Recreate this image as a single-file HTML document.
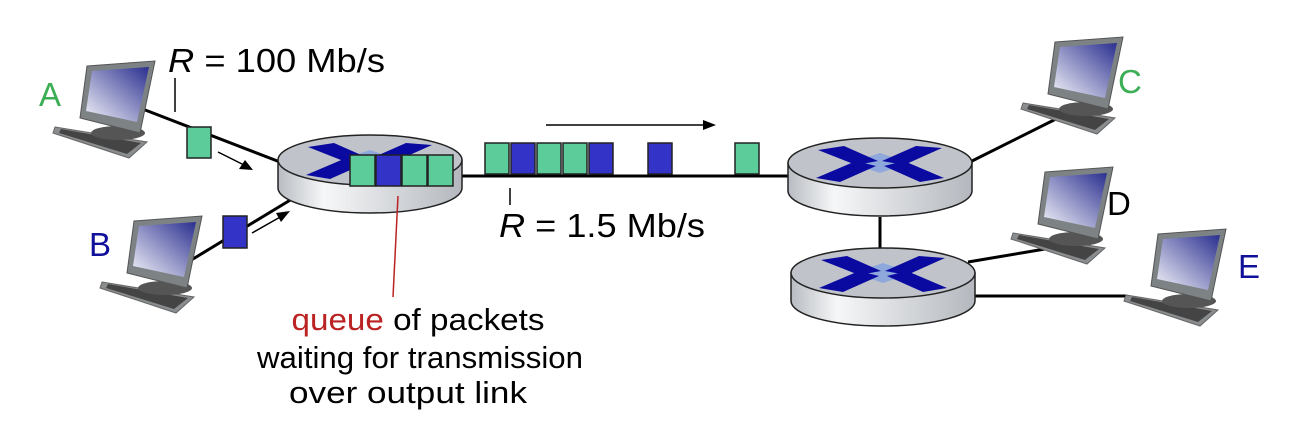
<!DOCTYPE html>
<html><head><meta charset="utf-8"><style>
html,body{margin:0;padding:0;background:#fff;}
svg{display:block;font-family:"Liberation Sans",sans-serif;}
</style></head><body>
<svg width="1292" height="434" viewBox="0 0 1292 434" xmlns="http://www.w3.org/2000/svg">
<defs>
<linearGradient id="scr" x1="1" y1="0" x2="0" y2="1"><stop offset="0" stop-color="#2a2f8f"/><stop offset="1" stop-color="#f4f4fa"/></linearGradient>
<linearGradient id="side" x1="0" y1="0" x2="1" y2="0"><stop offset="0" stop-color="#b8bcc2"/><stop offset="0.25" stop-color="#f6f7f8"/><stop offset="1" stop-color="#b4b8be"/></linearGradient>
<g id="pc">
<polygon points="0,67 92,82 74,98 -2,73" fill="#8a8d8f" stroke="#666" stroke-width="1"/>
<polygon points="6,69 86,83 72,94 4,73" fill="#444"/>
<ellipse cx="63" cy="73" rx="27" ry="7" fill="#555"/>
<polygon points="32,6 100,1 85,73 25,58" fill="#7d8284" stroke="#555" stroke-width="1"/>
<polygon points="37,11 94,7 82,62 31,51" fill="url(#scr)"/>
</g>
<g id="rt">
<path d="M-92,0 L-92,28 A92,25 0 0 0 92,28 L92,0 Z" fill="url(#side)" stroke="#222" stroke-width="1.5"/>
<ellipse cx="0" cy="0" rx="92" ry="25" fill="#c0c4ca" stroke="#222" stroke-width="1.5"/>
<polygon points="-30,0 0,-10 30,0 0,10" fill="#8fa8dc"/>
<polygon points="-62,-13 -36,-17 -2,-2 -24,2" fill="#0a0aa0"/>
<polygon points="-64,15 -40,19 -4,3 -24,-2" fill="#0a0aa0"/>
<polygon points="62,-15 36,-17 2,-2 24,2" fill="#0a0aa0"/>
<polygon points="64,15 40,19 4,3 24,-2" fill="#0a0aa0"/>
</g>
</defs>

<g stroke="#000" stroke-width="3" fill="none">
<line x1="140" y1="108" x2="280" y2="162"/>
<line x1="188" y1="262" x2="292" y2="199"/>
<line x1="461" y1="176" x2="790" y2="176"/>
<line x1="970" y1="162" x2="1058" y2="118"/>
<line x1="968" y1="262" x2="1045" y2="249"/>
<line x1="975" y1="296" x2="1127" y2="296"/>
<line x1="880" y1="217" x2="880" y2="248"/>
</g>

<use href="#pc" x="55" y="60"/>
<use href="#pc" x="102" y="215"/>
<use href="#pc" x="1023" y="36"/>
<use href="#pc" x="1013" y="166"/>
<use href="#pc" x="1126" y="228"/>

<use href="#rt" x="370" y="160"/>
<use href="#rt" x="880" y="163"/>
<use href="#rt" x="883" y="273"/>

<g stroke="#222" stroke-width="1.5">
<rect x="350" y="155" width="25" height="31" fill="#5ccc9a"/>
<rect x="376" y="155" width="25" height="31" fill="#3333c8"/>
<rect x="402" y="155" width="25" height="31" fill="#5ccc9a"/>
<rect x="428" y="155" width="25" height="31" fill="#5ccc9a"/>
<rect x="187" y="127" width="24" height="31" fill="#5ccc9a"/>
<rect x="223" y="216" width="24" height="32" fill="#3333c8"/>
<rect x="485" y="143" width="24" height="31" fill="#5ccc9a"/>
<rect x="511" y="143" width="24" height="31" fill="#3333c8"/>
<rect x="537" y="143" width="24" height="31" fill="#5ccc9a"/>
<rect x="563" y="143" width="24" height="31" fill="#5ccc9a"/>
<rect x="589" y="143" width="24" height="31" fill="#3333c8"/>
<rect x="648" y="143" width="24" height="31" fill="#3333c8"/>
<rect x="735" y="143" width="24" height="31" fill="#5ccc9a"/>
</g>

<g stroke="#000" stroke-width="1.5">
<line x1="218" y1="152" x2="246" y2="166"/>
<line x1="252" y1="233" x2="282" y2="216"/>
<line x1="546" y1="125" x2="704" y2="125"/>
<line x1="175" y1="78" x2="175" y2="112"/>
<line x1="510" y1="188" x2="510" y2="205"/>
</g>
<g fill="#000">
<polygon points="253,170 239,169 245,160"/>
<polygon points="290,211 281,222 276,213"/>
<polygon points="716,125 703,120 703,130"/>
</g>
<line x1="398" y1="196" x2="393" y2="297" stroke="#b22" stroke-width="1.5"/>

<g font-size="33">
<text x="168" y="72" textLength="217" lengthAdjust="spacingAndGlyphs"><tspan font-style="italic">R</tspan> = 100 Mb/s</text>
<text x="499" y="237" textLength="206" lengthAdjust="spacingAndGlyphs"><tspan font-style="italic">R</tspan> = 1.5 Mb/s</text>
<text x="39" y="106" fill="#3cae55">A</text>
<text x="89" y="256" fill="#10109a">B</text>
<text x="1118" y="93" fill="#3cae55">C</text>
<text x="1107" y="215" fill="#000">D</text>
<text x="1238" y="278" fill="#10109a">E</text>
</g>
<g font-size="31" text-anchor="middle">
<text x="418" y="330" textLength="253" lengthAdjust="spacingAndGlyphs"><tspan fill="#b22">queue</tspan> of packets</text>
<text x="420" y="368" textLength="326" lengthAdjust="spacingAndGlyphs">waiting for transmission</text>
<text x="408" y="403" textLength="238" lengthAdjust="spacingAndGlyphs">over output link</text>
</g>
</svg>
</body></html>
